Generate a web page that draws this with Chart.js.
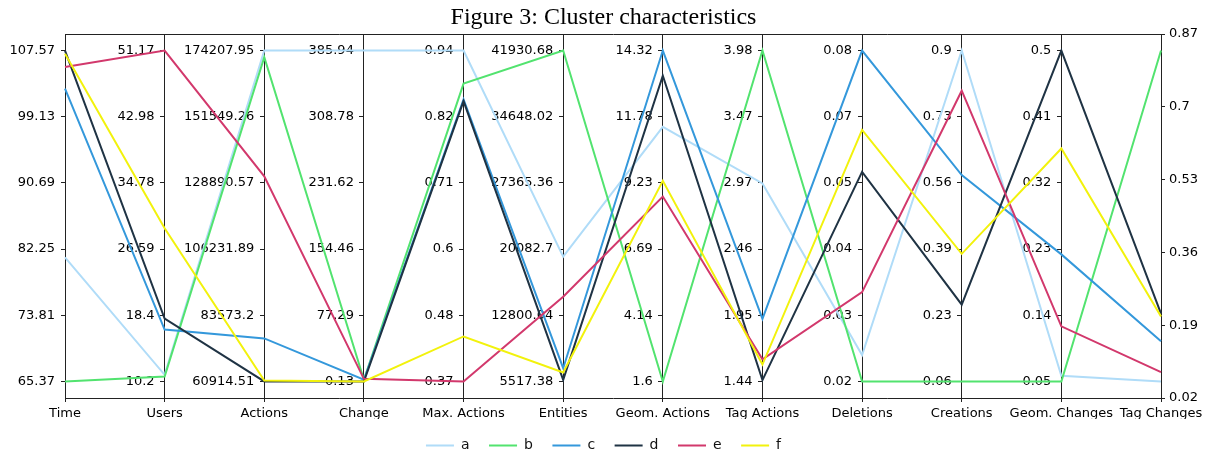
<!DOCTYPE html>
<html>
<head>
<meta charset="utf-8">
<script src="https://cdn.jsdelivr.net/npm/chart.js@4.4.1/dist/chart.umd.min.js"></script>
<style>
  html, body { margin: 0; padding: 0; background: #fff; }
</style>
</head>
<body>
<canvas id="clusterChart" width="1207" height="454"></canvas>
<script>
// DATA
const axisNames = ["Time", "Users", "Actions", "Change", "Max. Actions", "Entities",
  "Geom. Actions", "Tag Actions", "Deletions", "Creations", "Geom. Changes", "Tag Changes"];

const clusterNames = ["a", "b", "c", "d", "e", "f"];

// raw values per cluster, one per axis
const clusterA = [81.2, 11.02, 174207.95, 385.94, 0.94, 19245.2, 11.39, 2.96, 0.0248, 0.9, 0.0577, 0.02];
const clusterB = [65.37, 10.81, 171942.1, 2.1, 0.883, 41930.68, 1.6, 3.98, 0.02, 0.06, 0.05, 0.87];
const clusterC = [102.72, 16.63, 75642.6, 2.1, 0.856, 6973.9, 14.32, 1.92, 0.08, 0.584, 0.2228, 0.123];
const clusterD = [107.57, 17.98, 60914.51, 0.13, 0.853, 5699.4, 13.35, 1.45, 0.058, 0.255, 0.5, 0.194];
const clusterE = [105.46, 51.17, 131156.4, 3.2, 0.37, 14839.2, 8.71, 1.61, 0.0362, 0.798, 0.125, 0.044];
const clusterF = [107.15, 29.17, 61254.4, 0.13, 0.4475, 6500.5, 9.31, 1.57, 0.0656, 0.384, 0.3668, 0.187];

// tick labels of every axis, bottom to top
const ticksTime = ["65.37", "73.81", "82.25", "90.69", "99.13", "107.57"];
const ticksUsers = ["10.2", "18.4", "26.59", "34.78", "42.98", "51.17"];
const ticksActions = ["60914.51", "83573.2", "106231.89", "128890.57", "151549.26", "174207.95"];
const ticksChange = ["0.13", "77.29", "154.46", "231.62", "308.78", "385.94"];
const ticksMaxActions = ["0.37", "0.48", "0.6", "0.71", "0.82", "0.94"];
const ticksEntities = ["5517.38", "12800.04", "20082.7", "27365.36", "34648.02", "41930.68"];
const ticksGeomActions = ["1.6", "4.14", "6.69", "9.23", "11.78", "14.32"];
const ticksTagActions = ["1.44", "1.95", "2.46", "2.97", "3.47", "3.98"];
const ticksDeletions = ["0.02", "0.03", "0.04", "0.05", "0.07", "0.08"];
const ticksCreations = ["0.06", "0.23", "0.39", "0.56", "0.73", "0.9"];
const ticksGeomChanges = ["0.05", "0.14", "0.23", "0.32", "0.41", "0.5"];
const ticksTagChanges = ["0.02", "0.19", "0.36", "0.53", "0.7", "0.87"];

const lineColors = ["#b0dcf8", "#52e36f", "#3498db", "#1f3344", "#d2386c", "#f2f20c"];

document.addEventListener("DOMContentLoaded", () => {

  const tickLabels = [ticksTime, ticksUsers, ticksActions, ticksChange, ticksMaxActions, ticksEntities,
    ticksGeomActions, ticksTagActions, ticksDeletions, ticksCreations, ticksGeomChanges, ticksTagChanges];
  const clusters = [clusterA, clusterB, clusterC, clusterD, clusterE, clusterF];

  // each axis scaled between its lowest and highest tick
  const axisMin = tickLabels.map(t => parseFloat(t[0]));
  const axisMax = tickLabels.map(t => parseFloat(t[t.length - 1]));
  const norm = (v, k) => (v - axisMin[k]) / (axisMax[k] - axisMin[k]);

  const tickFont = { family: "DejaVu Sans", size: 13 };
  const lineCol = "#222";
  const last = axisNames.length - 1;

  // SCALES
  const scales = {
    x: {
      type: "category", position: "bottom", offset: false,
      grid: { drawOnChartArea: false, tickLength: 4, color: lineCol },
      border: { color: lineCol, width: 1 },
      ticks: { autoSkip: false, maxRotation: 0, minRotation: 0, padding: 4, color: "#000", font: tickFont },
      afterFit: s => { s.height = 21; }
    },
    xTop: {
      axis: "x", type: "category", position: "top", offset: false,
      grid: { display: false, drawTicks: false },
      border: { color: lineCol, width: 1 },
      ticks: { display: false },
      afterFit: s => { s.height = 0; }
    }
  };

  axisNames.forEach((name, k) => {
    if (k === last) return;
    scales["y" + k] = {
      axis: "y", type: "linear", min: -0.05, max: 1.05,
      position: k === 0 ? "left" : { x: k },
      grid: { drawOnChartArea: false, tickLength: 4, color: lineCol },
      border: { color: lineCol, width: 1 },
      ticks: { padding: 6, color: "#000", font: tickFont, autoSkip: false,
        callback: (v, i) => tickLabels[k][i] },
      afterBuildTicks: s => { s.ticks = [0, 0.2, 0.4, 0.6, 0.8, 1].map(v => ({ value: v })); },
      afterFit: s => { if (k === 0) s.width = 65; }
    };
  });

  // last axis: ticks spread over the whole height, on the right
  scales.yR = {
    axis: "y", type: "linear", min: -0.05, max: 1.05, position: "right",
    grid: { drawOnChartArea: false, tickLength: 4, color: lineCol },
    border: { color: lineCol, width: 1 },
    ticks: { padding: 4, color: "#000", font: tickFont, autoSkip: false,
      callback: (v, i) => tickLabels[last][i] },
    afterBuildTicks: s => { s.ticks = [-0.05, 0.17, 0.39, 0.61, 0.83, 1.05].map(v => ({ value: v })); },
    afterFit: s => { s.width = 46; }
  };

  // axes placed inside the plot put their labels right on the line; move them left of the tick
  const shiftLabels = {
    id: "shiftLabels",
    beforeDraw(chart) {
      Object.values(chart.scales).forEach(s => {
        if (typeof s.options.position !== "object") return;
        s.getLabelItems().forEach(item => {
          if (item.shifted) return;
          item.options.translation[0] -= 10;
          item.shifted = true;
        });
      });
    }
  };

  // CHART
  new Chart(document.getElementById("clusterChart"), {
    type: "line",
    data: {
      labels: axisNames,
      datasets: clusterNames.map((n, i) => ({
        label: n,
        data: clusters[i].map((v, k) => norm(v, k)),
        borderColor: lineColors[i],
        backgroundColor: lineColors[i],
        borderWidth: 2,
        pointRadius: 0,
        tension: 0,
        fill: false,
        xAxisID: "x",
        yAxisID: "y0",
        order: clusterNames.length - i
      }))
    },
    options: {
      responsive: false,
      animation: false,
      layout: { padding: { top: 0, left: 0, right: 0, bottom: -8.5 } },
      scales: scales,
      plugins: {
        title: {
          display: true,
          text: "Figure 3: Cluster characteristics",
          color: "#000",
          font: { family: "Liberation Serif", size: 24, weight: "normal" },
          padding: { top: 3, bottom: 2.2 }
        },
        legend: {
          position: "bottom",
          labels: {
            usePointStyle: true,
            pointStyle: "line",
            pointStyleWidth: 28,
            padding: 19.5,
            color: "#111",
            font: { family: "DejaVu Sans", size: 14 },
            sort: (a, b) => a.datasetIndex - b.datasetIndex
          }
        },
        tooltip: { enabled: false }
      }
    },
    plugins: [shiftLabels]
  });

});
</script>
</body>
</html>
